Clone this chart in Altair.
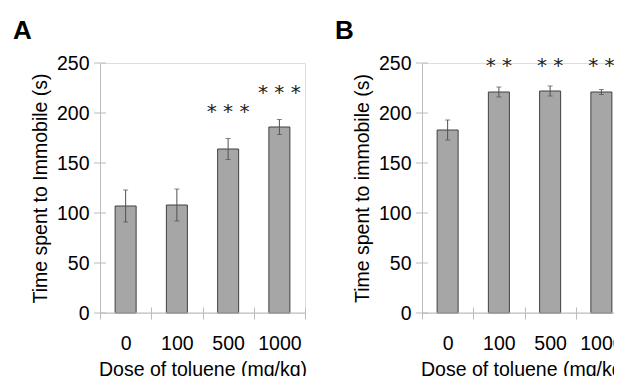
import altair as alt
import pandas as pd

doses = ["0", "100", "500", "1000"]
a_mean = [107, 108, 164, 186]
a_err = [16, 16, 10.5, 7.5]
a_stars = ["", "", "* * *", "* * *"]
a_star_y = [0, 0, 206, 225]

b_mean = [183, 221, 222, 221]
b_err = [10, 5, 5, 2.5]
b_stars = ["", "* *", "* *", "* *"]
b_star_y = [0, 252, 252, 252]

y_ticks = [0, 50, 100, 150, 200, 250]

FONT = "Liberation Sans"
FS = 19.5
AXIS_GRAY = "#bcbcbc"
W, H = 205, 250


def panel(letter, mean, err, stars, star_y, ytitle):
    df = pd.DataFrame({
        "dose": doses,
        "mean": mean,
        "lo": [m - e for m, e in zip(mean, err)],
        "hi": [m + e for m, e in zip(mean, err)],
        "star": stars,
        "sy": star_y,
    })
    xenc = alt.X("dose:N", sort=doses, title="Dose of toluene (mg/kg)",
                 scale=alt.Scale(paddingInner=0, paddingOuter=0),
                 axis=alt.Axis(labelAngle=0, tickBand="extent", offset=-6,
                               tickSize=12, domain=False, tickColor=AXIS_GRAY,
                               labelPadding=15, labelFontSize=FS, labelFont=FONT,
                               labelColor="black", titleFont=FONT, titleFontSize=FS,
                               titleFontWeight="normal", titleColor="black",
                               titlePadding=8))
    yscale = alt.Scale(domain=[0, 250], nice=False)
    base = alt.Chart(df)
    bars = base.mark_bar(fill="#a6a6a6", stroke="#404040", strokeWidth=1,
                         width=alt.RelativeBandSize(0.41)).encode(
        x=xenc,
        y=alt.Y("mean:Q", scale=yscale, title=ytitle,
                axis=alt.Axis(values=y_ticks, ticks=False, grid=False,
                              domainColor=AXIS_GRAY, labelPadding=11,
                              labelFontSize=FS, labelFont=FONT, labelColor="black",
                              titleFont=FONT, titleFontSize=FS, titleFontWeight="normal",
                              titleColor="black", titlePadding=6)),
    )
    errs = base.mark_rule(color="#505050", strokeWidth=1).encode(
        x=alt.X("dose:N", sort=doses), y="lo:Q", y2="hi:Q")
    caps_lo = base.mark_tick(color="#505050", thickness=1, size=5, orient="horizontal").encode(
        x=alt.X("dose:N", sort=doses), y="lo:Q")
    caps_hi = base.mark_tick(color="#505050", thickness=1, size=5, orient="horizontal").encode(
        x=alt.X("dose:N", sort=doses), y="hi:Q")
    star_txt = base.mark_text(font="DejaVu Sans", fontSize=20, baseline="middle", dy=5,
                              color="#222222").encode(
        x=alt.X("dose:N", sort=doses), y="sy:Q", text="star:N")
    tick_df = pd.DataFrame({"t": y_ticks})
    yt = alt.Chart(tick_df).mark_rule(color=AXIS_GRAY, strokeWidth=1).encode(
        y="t:Q", x=alt.value(-6), x2=alt.value(6))
    baseline = alt.Chart(pd.DataFrame({"z": [0]})).mark_rule(
        color=AXIS_GRAY, strokeWidth=1).encode(
        y="z:Q", x=alt.value(0), x2=alt.value(W))
    return alt.layer(bars, errs, caps_lo, caps_hi, star_txt, yt, baseline).properties(
        width=W, height=H,
        title=alt.TitleParams(letter, anchor="start", frame="group", dx=-87,
                              fontSize=26, fontWeight="bold", font=FONT,
                              color="black", offset=9),
    )


chart = alt.hconcat(
    panel("A", a_mean, a_err, a_stars, a_star_y, "Time spent to Immobile (s)"),
    panel("B", b_mean, b_err, b_stars, b_star_y, "Time spent to immobile (s)"),
    spacing=26,
).properties(
    padding={"left": 4, "top": 9, "right": -16, "bottom": -4}
).configure_view(stroke=None).configure(background="white")

chart.save("out.html", embed_options={"renderer": "svg", "actions": False})
